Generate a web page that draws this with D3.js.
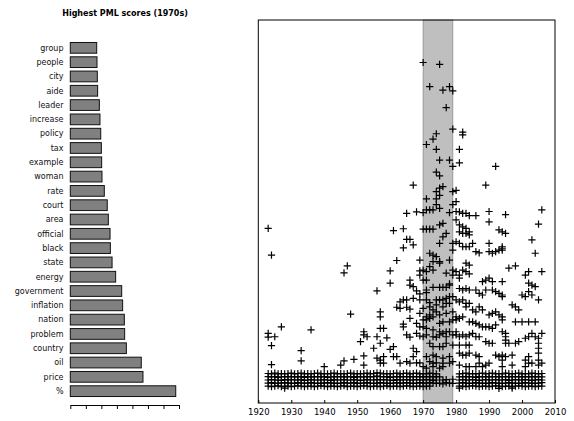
<!DOCTYPE html>
<meta charset="utf-8">
<style>
body { margin: 0; background: #fff; }
svg { display: block; font-family: "DejaVu Sans", sans-serif; }
.bar { fill: #808080; stroke: #111; stroke-width: 1; }
.word { font-size: 8px; fill: #111; }
.title { font-size: 8px; font-weight: bold; fill: #000; }
.pt { fill: none; stroke: #000; stroke-width: 1.2; }
</style>
<svg width="574" height="421"></svg>
<script src="https://d3js.org/d3.v7.min.js"></script>
<script>

// left panel: top words for the 1970s
var words = ["group", "people", "city", "aide", "leader", "increase", "policy", "tax",
	"example", "woman", "rate", "court", "area", "official", "black", "state", "energy",
	"government", "inflation", "nation", "problem", "country", "oil", "price", "%"];
var pml = [1.70, 1.72, 1.74, 1.76, 1.87, 1.91, 1.96, 2.00, 2.02, 2.04, 2.19, 2.38, 2.45,
	2.56, 2.58, 2.69, 2.92, 3.31, 3.37, 3.48, 3.50, 3.61, 4.57, 4.68, 6.79];
var barTicks = [0, 1, 2, 3, 4, 5, 6, 7];

// right panel: [year, score] for the scattered points
var scores = [
	[1970,88.9],[1975,88.4],[1972,82.6],[1976,81.7],[1978,82.6],[1979,81.5],[1977,77.1],
	[1979,71.5],[1982,70.7],[1982,70.0],[1974,70.3],[1973,68.9],[1971,67.5],[1974,66.2],
	[1981,66.2],[1975,63.4],[1978,63.4],[1981,62.7],[1979,61.8],[1992,61.8],[1974,60.3],
	[1975,59.3],[1967,56.9],[1989,56.9],[1976,56.5],[1975,56.1],[1974,55.2],[1979,55.2],
	[1980,55.5],[1975,54.2],[1971,53.3],[1974,53.3],[1980,52.6],[1979,51.8],[1974,51.8],
	[1965,49.5],[1968,49.9],[1970,49.7],[1971,50.4],[1973,50.4],[1975,50.8],[1978,49.7],
	[1981,49.9],[1983,49.5],[1984,48.9],[1986,48.9],[1990,50.0],[1995,49.2],[2006,50.4],
	[1972,50.4],[1980,50.0],
	[1923,45.6],[1924,38.6],[1947,35.8],[1946,34.0],[1948,23.2],[1927,19.9],[1923,18.2],
	[1923,17.2],[1925,17.3],[1924,15.0],[1936,19.1],[1933,13.7],[1933,11.0],[1924,10.0],
	[1940,9.5],[1945,9.9],[1946,11.0],[1949,11.4],
	[1961,45.0],[1964,45.5],[1970,45.4],[1965,42.7],[1966,42.7],[1964,40.5],[1967,41.3],
	[1962,37.2],[1969,37.3],[1960,34.5],[1969,34.5],[1969,33.4],[1960,31.3],[1966,32.1],
	[1966,30.8],[1967,30.4],[1970,32.1],[1956,29.3],[1968,29.3],[1969,28.5],[1967,27.3],
	[1963,26.4],[1964,26.9],[1965,26.9],[1969,26.9],[1962,25.0],[1963,24.7],[1965,25.0],
	[1966,24.5],[1957,23.8],[1957,22.5],[1969,23.4],[1966,22.1],[1970,21.7],[1964,20.6],
	[1964,19.9],[1968,20.8],[1969,19.9],[1957,19.5],[1958,19.5],[1952,18.6],[1952,17.8],
	[1953,17.3],[1951,16.0],[1956,17.3],[1959,17.0],[1965,17.8],[1966,17.2],[1968,18.2],
	[1969,17.5],[1957,15.6],[1955,14.3],[1961,14.7],[1960,14.0],[1967,14.3],[1968,13.4],
	[1961,12.1],[1962,12.1],[1952,12.3],[1952,9.9],[1956,11.7],[1957,11.2],[1958,12.1],
	[1958,10.4],[1957,10.4],[1963,10.4],[1965,10.8],[1966,10.4],[1967,12.1],[1968,10.5],
	[1969,10.5],
	[1971,45.4],[1972,45.4],[1973,45.4],[1975,46.5],[1976,46.9],[1977,44.3],[1976,43.4],
	[1975,41.7],[1979,41.7],[1979,39.9],[1972,39.1],[1973,38.6],[1974,38.2],[1975,36.9],
	[1975,36.5],[1973,36.9],[1978,37.3],[1970,34.7],[1971,34.3],[1972,35.6],[1973,34.7],
	[1977,33.9],[1979,33.4],[1979,34.7],[1971,32.1],[1973,30.2],[1975,30.2],[1976,30.2],
	[1977,30.2],[1978,31.1],[1978,30.8],[1971,29.5],[1971,28.8],[1974,26.9],[1975,26.9],
	[1976,26.9],[1977,27.3],[1978,27.8],[1979,27.8],[1971,26.9],[1972,26.2],[1974,25.6],
	[1976,25.1],[1977,26.0],[1978,26.0],[1970,24.7],[1972,25.1],[1973,24.3],[1974,23.8],
	[1971,22.5],[1972,23.0],[1973,22.5],[1975,23.0],[1977,23.4],[1979,23.8],[1971,21.7],
	[1972,22.1],[1970,19.9],[1971,19.5],[1975,20.8],[1976,21.2],[1978,21.2],[1979,21.7],
	[1980,21.7],[1973,19.1],[1975,18.6],[1976,18.2],[1977,18.6],[1978,18.6],[1970,17.3],
	[1971,17.8],[1973,17.3],[1974,17.2],[1975,17.8],[1977,17.3],[1979,17.8],[1980,17.8],
	[1972,15.6],[1973,14.7],[1975,14.7],[1976,14.7],[1977,15.6],[1979,15.1],[1971,12.1],
	[1973,12.5],[1974,12.1],[1976,11.7],[1978,12.1],[1972,10.8],[1973,10.4],[1974,10.5],
	[1976,10.4],[1978,10.4],[1979,10.8],[1970,9.5],[1971,9.1],[1973,9.5],[1975,9.1],
	[1976,9.5],
	[1982,49.5],[1990,47.3],[1993,45.2],[1994,44.7],[1980,47.8],[1981,46.5],[1982,46.0],
	[1983,45.6],[1984,44.7],[1981,44.7],[1982,44.3],[1983,44.3],[1984,43.9],[1980,42.1],
	[1981,41.7],[1982,40.8],[1983,40.8],[1984,40.8],[1985,41.7],[1986,39.5],[1987,39.2],
	[1990,41.7],[1990,39.5],[1991,39.1],[1992,39.5],[1993,39.9],[1994,40.4],[1983,36.5],
	[1984,36.0],[1982,34.7],[1983,34.3],[1984,33.7],[1980,34.3],[1981,33.4],[1981,32.6],
	[1988,31.7],[1989,32.1],[1990,32.6],[1991,31.7],[1981,29.9],[1982,29.5],[1983,29.9],
	[1984,29.5],[1986,29.5],[1987,28.6],[1988,28.2],[1989,29.5],[1991,29.5],[1992,29.1],
	[1993,28.6],[1980,26.9],[1981,26.4],[1982,26.9],[1983,25.1],[1983,26.0],[1984,26.0],
	[1985,24.3],[1986,23.8],[1987,25.1],[1988,24.3],[1990,23.0],[1991,23.4],[1992,23.8],
	[1993,23.0],[1980,22.5],[1981,22.1],[1982,22.5],[1984,21.2],[1985,21.2],[1986,20.8],
	[1987,20.4],[1988,19.9],[1989,19.9],[1990,19.9],[1991,19.5],[1992,20.4],[1980,18.6],
	[1981,17.3],[1982,17.8],[1983,17.3],[1984,17.8],[1985,18.2],[1986,17.3],[1987,17.3],
	[1989,16.0],[1990,15.6],[1991,15.6],[1981,15.1],[1983,15.1],[1984,15.1],[1981,13.0],
	[1982,12.5],[1983,12.5],[1984,13.0],[1986,12.5],[1987,12.1],[1987,10.4],[1990,10.4],
	[1992,12.5],[1993,12.1],[1994,11.2],[1981,9.9],[1983,9.5],[1984,9.5],[1986,9.5],
	[1988,9.5],[1989,9.9],
	[2005,46.7],[1995,44.3],[2003,42.6],[1994,40.8],[1994,39.9],[2004,39.1],[1996,35.2],
	[1998,35.8],[2002,34.3],[2001,33.4],[2006,34.3],[1994,31.7],[2002,31.3],[2003,30.8],
	[2004,30.4],[1994,28.2],[1994,27.8],[2000,28.2],[2001,27.8],[2002,29.1],[2003,28.2],
	[2005,26.9],[1997,25.6],[1998,25.1],[1999,24.3],[1994,22.5],[1994,21.7],[1998,21.2],
	[2000,21.2],[2002,21.2],[2004,21.2],[1994,18.6],[1995,18.2],[1995,17.3],[1995,16.4],
	[1995,15.6],[1996,15.6],[1998,15.6],[1999,16.0],[2001,16.9],[2002,17.3],[2003,18.2],
	[2004,17.3],[2005,16.9],[2006,18.2],[2005,15.6],[2005,14.3],[1994,12.5],[1995,12.1],
	[1997,12.5],[2002,12.1],[2001,11.2],[2002,10.4],[2005,13.0],[2005,11.2],[2006,10.4],
	[2005,9.9],[1994,9.5],[1997,9.9],[2001,9.5],[2003,10.4]
];

// dense band of low scores: [year, scores...]
var lowScores = [
	[1923,7.7,6.9,6.0,5.2,4.4],[1924,7.6,6.8,6.1,5.3,4.3],[1925,7.8,6.9,6.0,5.1,4.4],
	[1926,7.6,6.7,6.0,5.2,4.5],[1927,7.7,6.8,5.9,5.2,4.3],[1928,7.6,6.9,6.1,5.3,4.4,3.9],
	[1929,7.7,6.8,6.0,5.2,4.4],[1930,7.8,6.9,6.1,5.2,4.3],[1931,7.6,6.8,6.0,5.1,4.4],
	[1932,7.7,6.8,6.0,5.3,4.5],[1933,7.8,6.9,6.1,5.2,4.4],[1934,7.6,6.7,5.9,5.2,4.3],
	[1935,7.7,6.9,6.0,5.2,4.4],[1936,7.6,6.8,6.1,5.3,4.4],[1937,7.7,6.8,6.0,5.2,4.3],
	[1938,7.8,6.9,6.0,5.1,4.4],[1939,7.6,6.8,6.0,5.2,4.5],[1940,7.7,6.9,6.1,5.2,4.4],
	[1941,7.6,6.7,6.0,5.3,4.3],[1942,7.7,6.8,5.9,5.2,4.4],[1943,7.8,6.9,6.1,5.2,4.4],
	[1944,7.6,6.8,6.0,5.1,4.3],[1945,7.7,6.9,6.0,5.2,4.4],[1946,7.6,6.8,6.1,5.3,4.5],
	[1947,7.7,6.8,6.0,5.2,4.3],[1948,7.8,6.9,6.0,5.2,4.4],[1949,7.6,6.7,6.1,5.3,4.4],
	[1950,7.7,6.9,6.0,5.1,4.3],[1951,7.6,6.8,5.9,5.2,4.4],[1952,7.7,6.8,6.0,5.2,4.5],
	[1953,7.8,6.9,6.1,5.3,4.4],[1954,7.6,6.8,6.0,5.2,4.3],[1955,7.7,6.9,6.0,5.1,4.4],
	[1956,7.9,7.0,6.1,5.2,4.4],[1957,7.8,6.9,6.0,5.3,4.3],[1958,7.6,6.8,6.1,5.2,4.4],
	[1959,7.7,6.9,6.0,5.2,4.5],[1960,7.6,6.7,6.0,5.1,4.3],[1961,7.7,6.8,5.9,5.2,4.4],
	[1962,7.8,6.9,6.1,5.3,4.4],[1963,7.6,6.8,6.0,5.2,4.3],[1964,7.7,6.9,6.0,5.2,4.4],
	[1965,7.8,6.8,6.1,5.3,4.5],[1966,7.6,6.9,6.0,5.2,4.4],[1967,7.7,6.8,6.0,5.1,4.3],
	[1968,7.8,6.9,6.1,5.2,4.4],[1969,7.6,6.8,6.0,5.3,4.4],[1970,7.7,6.9,6.0,5.2,4.3],
	[1971,7.6,6.8,6.1,5.2,4.4],[1972,7.8,6.9,6.0,5.3,4.4],[1973,7.7,6.8,5.9,5.2],
	[1974,7.6,6.9,6.0,5.1],[1975,6.8,5.2],[1976,6.0,5.0],[1977,6.1,5.3],[1978,5.2],
	[1979,6.2,5.1],
	[1981,7.6,6.8,6.0,5.2,4.4,3.9],[1982,7.7,6.9,6.1,5.3,4.4],[1983,7.8,6.8,6.0,5.2,4.3],
	[1984,7.6,6.9,6.0,5.1,4.4],[1985,7.7,6.8,6.1,5.2,4.5],[1986,7.6,6.7,6.0,5.3,4.4],
	[1987,7.7,6.9,5.9,5.2,4.3],[1988,7.8,6.8,6.0,5.2,4.4],[1989,7.6,6.9,6.1,5.1,4.4],
	[1990,7.7,6.8,6.0,5.2,4.3],[1991,7.8,6.9,6.0,5.3,4.4],[1992,7.6,6.8,6.1,5.2,4.5],
	[1993,7.7,6.9,6.0,5.2,4.4,3.8],[1994,7.6,6.8,6.0,5.1,4.3],[1995,7.8,6.9,6.1,5.2,4.4],
	[1996,7.7,6.8,5.9,5.3,4.4],[1997,7.6,6.9,6.0,5.2,4.3,3.9],[1998,7.7,6.8,6.1,5.2,4.4],
	[1999,7.8,6.9,6.0,5.1,4.5],[2000,7.6,6.8,6.0,5.2,4.4],[2001,7.7,6.9,6.1,5.3,4.3],
	[2002,7.6,6.8,6.0,5.2,4.4],[2003,7.8,6.9,5.9,5.2,4.4],[2004,7.7,6.8,6.0,5.1,4.3],
	[2005,7.6,6.9,6.1,5.2,4.4],[2006,7.7,6.8,6.0,5.3,4.4]
];

var yearTicks = [1920, 1930, 1940, 1950, 1960, 1970, 1980, 1990, 2000, 2010];
var decade = [1970, 1979];

var svg = d3.select("svg");

// ---- left: bar chart ----
var bx = d3.scaleLinear().domain([0, 7]).range([70.3, 179]);
var by = d3.scaleBand().domain(words).range([40.7, 398.3])
	.paddingInner(0.25).paddingOuter(0.125);

svg.append("text")
	.attr("class", "title")
	.attr("x", 125).attr("y", 16)
	.attr("text-anchor", "middle")
	.text("Highest PML scores (1970s)");

var left = svg.append("g");

left.selectAll("rect")
	.data(words)
	.enter().append("rect")
		.attr("class", "bar")
		.attr("x", bx(0))
		.attr("y", function(d) { return by(d); })
		.attr("width", function(d, i) { return bx(pml[i]) - bx(0); })
		.attr("height", by.bandwidth());

left.selectAll("text.word")
	.data(words)
	.enter().append("text")
		.attr("class", "word")
		.attr("x", 63.5)
		.attr("y", function(d) { return by(d) + by.bandwidth() / 2; })
		.attr("dy", "0.35em")
		.attr("text-anchor", "end")
		.text(function(d) { return d; });

var bAxis = left.append("g")
	.attr("transform", "translate(0,405)")
	.call(d3.axisBottom(bx).tickValues(barTicks).tickFormat("").tickSize(4).tickSizeOuter(0));
bAxis.select(".domain").attr("stroke", "#000");
bAxis.selectAll(".tick line").attr("stroke", "#000");

// ---- right: scatter ----
var x = d3.scaleLinear().domain([1920, 2010]).range([258.3, 555]);
var y = d3.scaleLinear().domain([0, 100]).range([403, 20]);

var right = svg.append("g");

right.append("rect")
	.attr("x", x(decade[0])).attr("y", y(100))
	.attr("width", x(decade[1]) - x(decade[0]))
	.attr("height", y(0) - y(100))
	.attr("fill", "#bfbfbf")
	.attr("stroke", "#8c8c8c")
	.attr("stroke-width", 0.8);

var pts = [];
lowScores.forEach(function(r) {
	for (var k = 1; k < r.length; k++) pts.push([r[0], r[k]]);
});
pts = pts.concat(scores);

var plus = "M-3.6,0H3.6M0,-3.6V3.6";
right.selectAll("path.pt")
	.data(pts)
	.enter().append("path")
		.attr("class", "pt")
		.attr("d", plus)
		.attr("transform", function(d) { return "translate(" + x(d[0]) + "," + y(d[1]) + ")"; });

right.append("rect")
	.attr("x", x(1920)).attr("y", y(100))
	.attr("width", x(2010) - x(1920))
	.attr("height", y(0) - y(100))
	.attr("fill", "none")
	.attr("stroke", "#000")
	.attr("stroke-width", 1);

var xAxis = right.append("g")
	.attr("transform", "translate(0,403)")
	.call(d3.axisBottom(x).tickValues(yearTicks).tickFormat(d3.format("d")).tickSize(-3).tickSizeOuter(0).tickPadding(6));
xAxis.select(".domain").remove();
xAxis.selectAll(".tick line").attr("stroke", "#000");
xAxis.selectAll("text").attr("font-size", 8.5).attr("fill", "#000").attr("font-family", "DejaVu Sans");

</script>
